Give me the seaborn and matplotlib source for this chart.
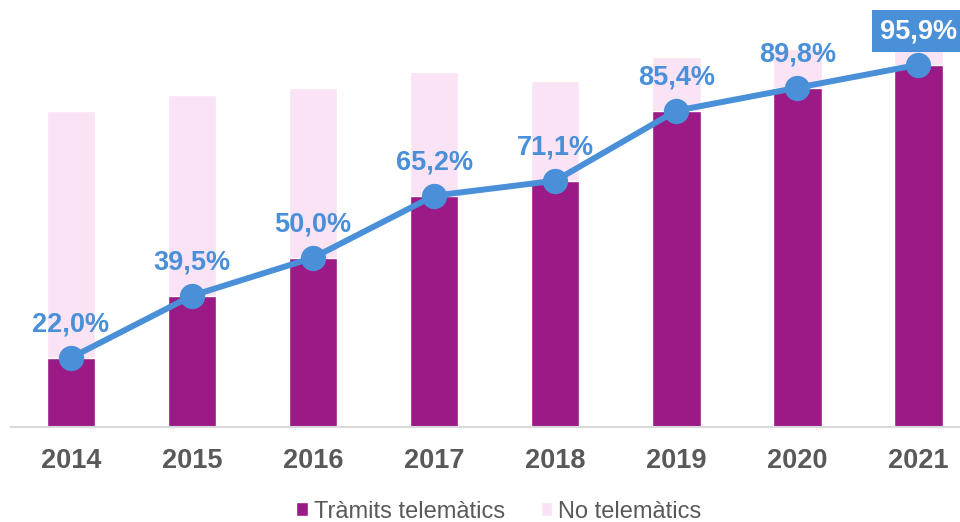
import numpy as np
import pandas as pd
import matplotlib
matplotlib.use('Agg')
import matplotlib.pyplot as plt
import seaborn as sns
from matplotlib.patches import Patch

# dades (llegides del gràfic, unitats relatives)
anys = ['2014', '2015', '2016', '2017', '2018', '2019', '2020', '2021']
telematics = [69, 131, 169, 231, 246, 316, 339, 362]
no_telematics = [247, 201, 170, 124, 100, 54, 39, 15]
percentatges = [22.0, 39.5, 50.0, 65.2, 71.1, 85.4, 89.8, 95.9]

fosc = '#9B1A86'
clar = '#FAE3F5'
blau = '#4A90D9'
gris = '#595959'

df = pd.DataFrame({'Any': anys, 'Telematics': telematics, 'No': no_telematics})
df['Total'] = df['Telematics'] + df['No']

sns.set_style('white')
plt.rcParams['font.family'] = ['Liberation Sans', 'DejaVu Sans']

fig = plt.figure(figsize=(9.6, 5.22), dpi=100)
ax = fig.add_axes([10.5 / 960, 0.1826, 1 - 10.5 / 960, 1 - 0.1826])

# barres apilades: total (clar) i a sobre la part telemàtica (fosc)
sns.barplot(data=df, x='Any', y='Total', color=clar, width=0.4, saturation=1, ax=ax)
sns.barplot(data=df, x='Any', y='Telematics', color=fosc, width=0.4, saturation=1, ax=ax)

# línia de percentatge
sns.pointplot(data=df, x='Any', y='Telematics', color=blau, markers='o',
              linestyles='-', markersize=15, linewidth=4.3, ax=ax)

for i, p in enumerate(percentatges):
    txt = f'{p:.1f}%'.replace('.', ',')
    if i == len(percentatges) - 1:
        ax.annotate(txt, (i, telematics[i]), xytext=(0, 24), textcoords='offset points',
                    ha='center', va='center', fontsize=19.5, fontweight='bold', color='white',
                    bbox=dict(boxstyle='square,pad=0.3', facecolor=blau, edgecolor='none'),
                    annotation_clip=False)
    else:
        ax.annotate(txt, (i, telematics[i]), xytext=(0, 24), textcoords='offset points',
                    ha='center', va='center', fontsize=19.5, fontweight='bold', color=blau)

ax.set_xlim(-0.5, 7.343)
ax.set_ylim(0, 426.7)
ax.set_xlabel('')
ax.set_ylabel('')
ax.set_yticks([])
for s in ['top', 'right', 'left']:
    ax.spines[s].set_visible(False)
ax.spines['bottom'].set_color('#D9D9D9')
ax.spines['bottom'].set_linewidth(1.5)
ax.tick_params(axis='x', length=0, pad=15, labelsize=19.5, labelcolor=gris)
for t in ax.get_xticklabels():
    t.set_fontweight('bold')

handles = [Patch(facecolor=fosc, label='Tràmits telemàtics'),
           Patch(facecolor=clar, label='No telemàtics')]
fig.legend(handles=handles, loc='center', bbox_to_anchor=(499 / 960, 10.5 / 522),
           ncol=2, frameon=False, fontsize=17, labelcolor=gris, handlelength=0.5,
           handleheight=0.5, handletextpad=0.25, columnspacing=1.5, borderpad=0)

fig.savefig('out.png', dpi=100)
